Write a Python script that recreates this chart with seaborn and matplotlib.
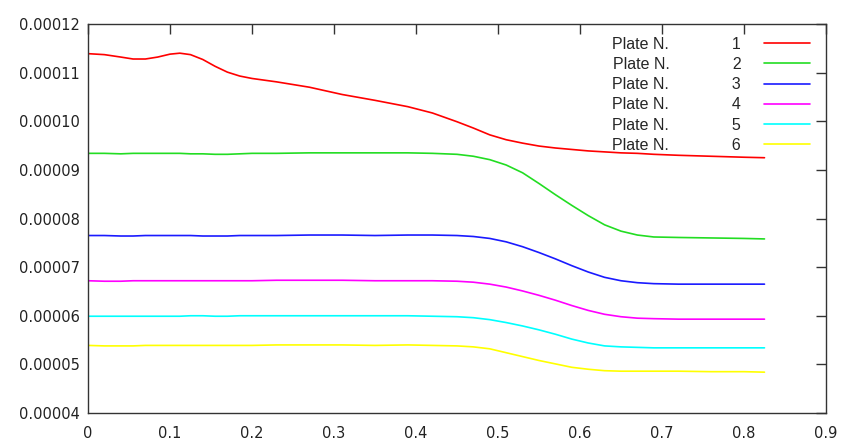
import matplotlib
matplotlib.use('Agg')
import matplotlib.pyplot as plt
import seaborn as sns
import pandas as pd
import numpy as np
from matplotlib.ticker import FormatStrFormatter, MultipleLocator

# x positions (shared by all plates)
x = [0.0, 0.02, 0.04, 0.055, 0.07, 0.085, 0.1, 0.112, 0.125, 0.14,
     0.155, 0.17, 0.185, 0.2, 0.23, 0.27, 0.31, 0.35, 0.39, 0.42,
     0.45, 0.47, 0.49, 0.51, 0.53, 0.55, 0.57, 0.59, 0.61, 0.63,
     0.65, 0.67, 0.69, 0.72, 0.76, 0.8, 0.825]

# values in units of 1e-5
plate1 = [11.39, 11.37, 11.32, 11.28, 11.28, 11.32, 11.38, 11.40, 11.37, 11.27,
          11.13, 11.01, 10.93, 10.88, 10.81, 10.70, 10.55, 10.43, 10.30, 10.17,
          9.99, 9.86, 9.72, 9.62, 9.55, 9.49, 9.45, 9.42, 9.39, 9.37,
          9.35, 9.34, 9.32, 9.30, 9.28, 9.26, 9.25]
plate2 = [9.34, 9.34, 9.33, 9.34, 9.34, 9.34, 9.34, 9.34, 9.33, 9.33,
          9.32, 9.32, 9.33, 9.34, 9.34, 9.35, 9.35, 9.35, 9.35, 9.34,
          9.32, 9.28, 9.21, 9.10, 8.94, 8.72, 8.49, 8.27, 8.06, 7.87,
          7.74, 7.66, 7.62, 7.61, 7.60, 7.59, 7.58]
plate3 = [7.65, 7.65, 7.64, 7.64, 7.65, 7.65, 7.65, 7.65, 7.65, 7.64,
          7.64, 7.64, 7.65, 7.65, 7.65, 7.66, 7.66, 7.65, 7.66, 7.66,
          7.65, 7.63, 7.59, 7.52, 7.42, 7.30, 7.17, 7.03, 6.90, 6.79,
          6.72, 6.68, 6.66, 6.65, 6.65, 6.65, 6.65]
plate4 = [6.72, 6.71, 6.71, 6.72, 6.72, 6.72, 6.72, 6.72, 6.72, 6.72,
          6.72, 6.72, 6.72, 6.72, 6.73, 6.73, 6.73, 6.72, 6.72, 6.72,
          6.71, 6.69, 6.65, 6.59, 6.51, 6.42, 6.32, 6.21, 6.11, 6.03,
          5.98, 5.95, 5.94, 5.93, 5.93, 5.93, 5.93]
plate5 = [5.99, 5.99, 5.99, 5.99, 5.99, 5.99, 5.99, 5.99, 6.00, 6.00,
          5.99, 5.99, 6.00, 6.00, 6.00, 6.00, 6.00, 6.00, 6.00, 5.99,
          5.98, 5.96, 5.92, 5.86, 5.79, 5.71, 5.62, 5.52, 5.44, 5.38,
          5.36, 5.35, 5.34, 5.34, 5.34, 5.34, 5.34]
plate6 = [5.39, 5.38, 5.38, 5.38, 5.39, 5.39, 5.39, 5.39, 5.39, 5.39,
          5.39, 5.39, 5.39, 5.39, 5.40, 5.40, 5.40, 5.39, 5.40, 5.39,
          5.38, 5.36, 5.32, 5.24, 5.16, 5.08, 5.01, 4.94, 4.90, 4.87,
          4.86, 4.86, 4.86, 4.86, 4.85, 4.85, 4.84]

plates = ['1', '2', '3', '4', '5', '6']
colors = ['#ff0000', '#22dd22', '#1a1aff', '#ff00ff', '#00ffff', '#ffff00']

frames = []
for name, vals in zip(plates, [plate1, plate2, plate3, plate4, plate5, plate6]):
    frames.append(pd.DataFrame({'x': x, 'y': np.array(vals) * 1e-5, 'plate': name}))
df = pd.concat(frames, ignore_index=True)

sns.set_style('white')
plt.rcParams['font.family'] = ['DejaVu Sans']

fig = plt.figure(figsize=(8.51, 4.42), dpi=100)
ax = fig.add_axes([0.1034, 0.0656, 0.8672, 0.8801])

sns.lineplot(data=df, x='x', y='y', hue='plate', palette=colors,
             linewidth=1.2, ax=ax, legend=False)

ax.set_xlim(0, 0.9)
ax.set_ylim(0.00004, 0.00012)
ax.xaxis.set_major_locator(MultipleLocator(0.1))
ax.yaxis.set_major_locator(MultipleLocator(0.00001))
ax.xaxis.set_major_formatter(FormatStrFormatter('%g'))
ax.yaxis.set_major_formatter(FormatStrFormatter('%.5f'))
ax.set_xlabel('')
ax.set_ylabel('')
ax.tick_params(direction='in', length=7, width=1, top=True, right=True,
               labelsize=10.5, labelcolor='#222222', color='#333333', pad=6)
ax.tick_params(axis='x', pad=9)
for s in ax.spines.values():
    s.set_color('#333333')
    s.set_linewidth(1)

# gnuplot-style key: text first, sample line on the right
handles = [plt.Line2D([], [], color=c, lw=1.2) for c in colors]
labels = [f'Plate N.              {p}' for p in plates]
ax.legend(handles, labels, loc='upper right', bbox_to_anchor=(0.989, 0.988),
          frameon=False, markerfirst=False, handlelength=2.9,
          handletextpad=1.4, labelspacing=0.33, borderpad=0,
          prop={'family': 'Liberation Sans', 'size': 11.5})

fig.savefig('out.png', dpi=100)
